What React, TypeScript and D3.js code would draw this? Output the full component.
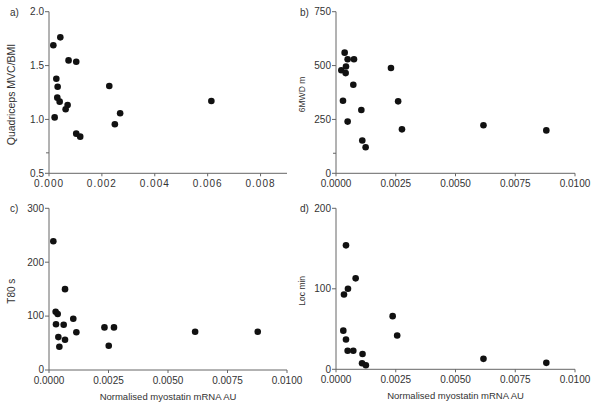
import React from 'react';
import * as d3 from 'd3';

// Panel a: quadriceps MVC/BMI vs myostatin mRNA
const quadX = [0.000164, 0.000428, 0.00074, 0.00103, 0.000277, 0.000327, 0.000314, 0.000403, 0.000704, 0.000629, 0.000214, 0.00103, 0.00118, 0.00228, 0.00249, 0.00269, 0.00614];
const quadY = [1.688, 1.762, 1.548, 1.536, 1.378, 1.304, 1.202, 1.165, 1.134, 1.094, 1.019, 0.868, 0.84, 1.31, 0.955, 1.057, 1.171];

// Panel b: 6MWD
const walkX = [0.000362, 0.000487, 0.000752, 0.000223, 0.000418, 0.000404, 0.000724, 0.000292, 0.00106, 0.000487, 0.0011, 0.00124, 0.0023, 0.0026, 0.00276, 0.00617, 0.0088];
const walkY = [560, 529, 529, 478, 496, 465, 411, 337, 294, 240, 152, 121, 489, 334, 204, 223, 199];

// Panel c: T80
const t80X = [0.000182, 0.00028, 0.000365, 0.000294, 0.000393, 0.000435, 0.000617, 0.000673, 0.000673, 0.00102, 0.00115, 0.00233, 0.00273, 0.00251, 0.00614, 0.00877];
const t80Y = [239, 108, 104, 85, 61, 43, 84, 150, 56, 95, 70, 79, 79, 45, 71, 71];

// Panel d: Loc
const locX = [0.000418, 0.000822, 0.000501, 0.000334, 0.000306, 0.000418, 0.000487, 0.000724, 0.00111, 0.00109, 0.00125, 0.00237, 0.00256, 0.00617, 0.0088];
const locY = [154, 113, 100, 93, 48, 37, 23, 23, 19, 7.5, 5, 66, 42, 13, 8];

const ticksA = [0.5, 1.0, 1.5, 2.0];
const ticksB = [0, 250, 500, 750];
const ticksC = [0, 100, 200, 300];
const ticksD = [0, 100, 200];
const xTicks4 = [0, 0.002, 0.004, 0.006, 0.008];
const xTicks5 = [0, 0.0025, 0.005, 0.0075, 0.01];

const textColor = '#333';
const axisColor = '#666';
const font = 'Liberation Sans, Arial, sans-serif';

type PanelProps = {
    letter: string;
    xs: number[];
    ys: number[];
    xDomain: [number, number];
    yDomain: [number, number];
    xRange: [number, number];
    yRange: [number, number];
    yTicks: number[];
    yFmt: (v: number) => string;
    minorY?: number[];
    xTicks: number[];
    xFmt: (v: number) => string;
    xLetterSpacing?: number;
    yLabel: string;
    yLabelSize: number;
    yLabelX: number;
    xLabel?: string;
};

const Panel = (p: PanelProps) => {
    const x = d3.scaleLinear().domain(p.xDomain).range(p.xRange);
    const y = d3.scaleLinear().domain(p.yDomain).range(p.yRange);
    const [x0, x1] = p.xRange;
    const [yb, yt] = p.yRange;
    return (
        <g fontFamily={font}>
            <text x={p.yLabelX - 5} y={yt + 4} fontSize={10} fill={textColor}>{p.letter}</text>
            {/* axes */}
            <line x1={x0} x2={x0} y1={yt} y2={yb} stroke={axisColor} strokeWidth={1} />
            <line x1={x0} x2={x1} y1={yb} y2={yb} stroke={axisColor} strokeWidth={1} />
            {p.yTicks.map(t => (
                <g key={'y' + t}>
                    <line x1={x0 - 4} x2={x0} y1={y(t)} y2={y(t)} stroke={axisColor} />
                    <text x={x0 - 5} y={y(t)} dy="0.33em" textAnchor="end" fontSize={10} fill={textColor}>{p.yFmt(t)}</text>
                </g>
            ))}
            {(p.minorY || []).map(t => (
                <line key={'m' + t} x1={x0 - 3} x2={x0} y1={y(t)} y2={y(t)} stroke={axisColor} />
            ))}
            {p.xTicks.map(t => (
                <g key={'x' + t}>
                    <line x1={x(t)} x2={x(t)} y1={yb} y2={yb + 3} stroke={axisColor} />
                    <text x={x(t)} y={yb + 13.5} textAnchor="middle" fontSize={10} fill={textColor}
                        letterSpacing={p.xLetterSpacing || 0}>{p.xFmt(t)}</text>
                </g>
            ))}
            <text transform={`translate(${p.yLabelX},${(yt + yb) / 2 + 2}) rotate(-90)`} textAnchor="middle"
                fontSize={p.yLabelSize} fill={textColor}>{p.yLabel}</text>
            {p.xLabel && (
                <text x={(x0 + x1) / 2} y={yb + 29.5} textAnchor="middle" fontSize={9.5} fill={textColor}>{p.xLabel}</text>
            )}
            {p.xs.map((v, i) => (
                <circle key={i} cx={x(v)} cy={y(p.ys[i])} r={3.3} fill="#111" />
            ))}
        </g>
    );
};

export default function App() {
    const f1 = d3.format('.1f');
    const f0 = d3.format('d');
    const f3 = d3.format('.3f');
    const f4 = d3.format('.4f');
    return (
        <svg width={600} height={405} style={{ position: 'absolute', left: 0, top: 0, background: '#fff' }}>
            <Panel letter="a)" xs={quadX} ys={quadY} xDomain={[0, 0.009]} yDomain={[0.5, 2.0]}
                xRange={[49, 287]} yRange={[173.3, 11.7]} yTicks={ticksA} yFmt={f1} minorY={[0.69]}
                xTicks={xTicks4} xFmt={f3} xLetterSpacing={1} yLabel="Quadriceps MVC/BMI" yLabelSize={10.5} yLabelX={15} />
            <Panel letter="b)" xs={walkX} ys={walkY} xDomain={[0, 0.01]} yDomain={[0, 750]}
                xRange={[336, 575]} yRange={[173.3, 11.7]} yTicks={ticksB} yFmt={f0} minorY={[93]}
                xTicks={xTicks5} xFmt={f4} yLabel="6MWD m" yLabelSize={8.5} yLabelX={305} />
            <Panel letter="c)" xs={t80X} ys={t80Y} xDomain={[0, 0.01]} yDomain={[0, 300]}
                xRange={[49, 287]} yRange={[370, 208.3]} yTicks={ticksC} yFmt={f0}
                xTicks={xTicks5} xFmt={f4} yLabel="T80 s" yLabelSize={10} yLabelX={15}
                xLabel="Normalised myostatin mRNA AU" />
            <Panel letter="d)" xs={locX} ys={locY} xDomain={[0, 0.01]} yDomain={[0, 200]}
                xRange={[336, 575]} yRange={[369.3, 208.3]} yTicks={ticksD} yFmt={f0}
                xTicks={xTicks5} xFmt={f4} yLabel="Loc min" yLabelSize={8.5} yLabelX={305}
                xLabel="Normalised myostatin mRNA AU" />
        </svg>
    );
}
